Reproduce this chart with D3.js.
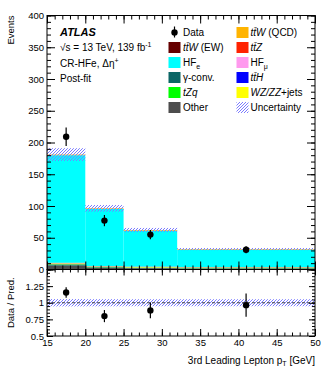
<!DOCTYPE html>
<meta charset="utf-8">
<style>
body { margin: 0; background: #fff; }
svg text { font-family: "Liberation Sans", Arial, Helvetica, sans-serif; fill: #000; }
.tick text { font-size: 9.5px; }
line.hatch { stroke: #7b7bff; stroke-width: 1px; }
</style>
<body>
<script src="https://d3js.org/d3.v7.min.js"></script>
<script>

// bin edges in 3rd leading lepton pT [GeV]
var binEdges = [15, 20, 25, 32, 50];

// observed data and its error
var dataCounts = [209, 77, 55, 31];
var dataErr = [14.5, 8.8, 7.4, 5.6];

// post-fit predictions per sample (stacked bottom -> top)
var otherVals    = [6.0, 2.5, 2.0, 1.5];
var gammaVals    = [2.0, 1.0, 0.8, 0.5];
var tZqVals      = [0.4, 0.3, 0.3, 0.3];
var wzzzVals     = [1.2, 0.8, 0.8, 0.8];
var ttHVals      = [0.2, 0.2, 0.2, 0.2];
var hfMuVals     = [0.3, 0.2, 0.2, 0.1];
var ttZVals      = [0.4, 0.3, 0.3, 0.3];
var ttWEWVals    = [0.1, 0.05, 0.05, 0.05];
var hfEVals      = [169.4, 90.0, 56.5, 27.5];
var ttWQCDVals   = [1.0, 1.0, 1.0, 0.9];

// total uncertainty on the prediction
var totalUnc = [10.0, 5.2, 3.3, 1.7];

// axis ticks
var yMainTicks = [0, 50, 100, 150, 200, 250, 300, 350, 400];
var yRatioTicks = [0.5, 0.75, 1, 1.25];
var xTicks = [15, 20, 25, 30, 35, 40, 45, 50];

var samples = [
  {key: "other",  vals: otherVals},
  {key: "gamma",  vals: gammaVals},
  {key: "tZq",    vals: tZqVals},
  {key: "wzzz",   vals: wzzzVals},
  {key: "ttH",    vals: ttHVals},
  {key: "hfMu",   vals: hfMuVals},
  {key: "ttZ",    vals: ttZVals},
  {key: "ttWEW",  vals: ttWEWVals},
  {key: "hfE",    vals: hfEVals},
  {key: "ttWQCD", vals: ttWQCDVals}
];

var colors = {
  other: "#4d4d4d", gamma: "#0b6666", tZq: "#00ff00", wzzz: "#ffff00",
  ttH: "#0000ff", hfMu: "#ff99ee", ttZ: "#ff2200", ttWEW: "#660000",
  hfE: "#00ffff", ttWQCD: "#ffb400"
};

// rows for d3.stack
var rows = binEdges.slice(0, -1).map(function(lo, i) {
  var r = {lo: lo, hi: binEdges[i + 1]};
  samples.forEach(function(s) { r[s.key] = s.vals[i]; });
  return r;
});
var stacked = d3.stack().keys(samples.map(function(s) { return s.key; }))(rows);
var totals = rows.map(function(r, i) { return stacked[stacked.length - 1][i][1]; });

var W = 332, H = 375;
var padL = 47, padR = 315, padT = 15.5, mainBottom = 269.5, ratioBottom = 336;

var x = d3.scaleLinear().domain([15, 50]).range([padL, padR]);
var y = d3.scaleLinear().domain([0, 400]).range([mainBottom, padT]);
var yr = d3.scaleLinear().domain([0.5, 1.5]).range([ratioBottom, mainBottom]);

var svg = d3.select("body").append("svg")
  .attr("width", W)
  .attr("height", H);

// hatch a screen rectangle with "/" lines (x + y = const)
function hatch(g, x0, y0, x1, y1, step) {
  var segs = [];
  var cStart = Math.ceil((x0 + y0) / step) * step;
  for (var c = cStart; c <= x1 + y1; c += step) {
    var xa = Math.max(x0, c - y1), xb = Math.min(x1, c - y0);
    if (xb > xa) segs.push([xa, c - xa, xb, c - xb]);
  }
  g.selectAll(null)
    .data(segs)
    .enter().append("line")
      .attr("class", "hatch")
      .attr("x1", function(d) { return d[0]; })
      .attr("y1", function(d) { return d[1]; })
      .attr("x2", function(d) { return d[2]; })
      .attr("y2", function(d) { return d[3]; });
}

// stacked histogram
var main = svg.append("g");
stacked.forEach(function(layer) {
  main.selectAll(null)
    .data(layer)
    .enter().append("rect")
      .attr("x", function(d) { return x(d.data.lo); })
      .attr("width", function(d) { return x(d.data.hi) - x(d.data.lo); })
      .attr("y", function(d) { return y(d[1]); })
      .attr("height", function(d) { return Math.max(0, y(d[0]) - y(d[1])); })
      .attr("fill", colors[layer.key]);
});

// uncertainty band
var uncG = svg.append("g");
rows.forEach(function(r, i) {
  hatch(uncG, x(r.lo), y(totals[i] + totalUnc[i]), x(r.hi), y(totals[i] - totalUnc[i]), 3);
});

// data points
var centers = rows.map(function(r) { return (r.lo + r.hi) / 2; });
var pts = svg.append("g");
pts.selectAll(null)
  .data(dataCounts)
  .enter().append("line")
    .attr("x1", function(d, i) { return x(centers[i]); })
    .attr("x2", function(d, i) { return x(centers[i]); })
    .attr("y1", function(d, i) { return y(d - dataErr[i]); })
    .attr("y2", function(d, i) { return y(d + dataErr[i]); })
    .attr("stroke", "#000").attr("stroke-width", 1.2);
pts.selectAll(null)
  .data(dataCounts)
  .enter().append("circle")
    .attr("cx", function(d, i) { return x(centers[i]); })
    .attr("cy", function(d) { return y(d); })
    .attr("r", 3.2);

// ratio panel
var ratio = svg.append("g");
rows.forEach(function(r, i) {
  var rel = totalUnc[i] / totals[i];
  hatch(ratio, x(r.lo), yr(1 + rel), x(r.hi), yr(1 - rel), 3);
});
ratio.append("line")
  .attr("x1", x(15)).attr("x2", x(50))
  .attr("y1", yr(1)).attr("y2", yr(1))
  .attr("stroke", "#444").attr("stroke-width", 1)
  .attr("stroke-dasharray", "3,2");
ratio.selectAll(null)
  .data(dataCounts)
  .enter().append("line")
    .attr("x1", function(d, i) { return x(centers[i]); })
    .attr("x2", function(d, i) { return x(centers[i]); })
    .attr("y1", function(d, i) { return yr((d - dataErr[i]) / totals[i]); })
    .attr("y2", function(d, i) { return yr((d + dataErr[i]) / totals[i]); })
    .attr("stroke", "#000").attr("stroke-width", 1.2);
ratio.selectAll(null)
  .data(dataCounts)
  .enter().append("circle")
    .attr("cx", function(d, i) { return x(centers[i]); })
    .attr("cy", function(d, i) { return yr(d / totals[i]); })
    .attr("r", 3.2);

// axes with inward ticks (major + minor)
function addAxis(axisFn, scale, ticks, minor, size, tx, ty, labels) {
  var g = svg.append("g").attr("transform", "translate(" + tx + "," + ty + ")");
  g.call(axisFn(scale).tickValues(minor).tickSize(-size / 2).tickSizeOuter(0).tickFormat(""));
  var g2 = svg.append("g").attr("transform", "translate(" + tx + "," + ty + ")");
  g2.call(axisFn(scale).tickValues(ticks).tickSize(-size).tickSizeOuter(0)
    .tickFormat(labels ? d3.format("") : ""));
  g.select(".domain").remove();
  g2.select(".domain").remove();
  return g2;
}
var xMinor = d3.range(15, 51, 1);
var yMinor = d3.range(0, 401, 10);
var yrMinor = d3.range(0.5, 1.501, 0.05);

addAxis(d3.axisLeft, y, yMainTicks, yMinor, 8, padL, 0, true);
addAxis(d3.axisRight, y, yMainTicks, yMinor, 8, padR, 0, false);
addAxis(d3.axisTop, x, xTicks, xMinor, 8, 0, padT, false);
addAxis(d3.axisBottom, x, xTicks, xMinor, 8, 0, mainBottom, false);

var lr = addAxis(d3.axisLeft, yr, yRatioTicks.concat([1.5]), yrMinor, 6, padL, 0, true);
lr.selectAll(".tick text").text(function(d) { return d === 1.5 ? "" : d; });
addAxis(d3.axisRight, yr, yRatioTicks.concat([1.5]), yrMinor, 6, padR, 0, false);
addAxis(d3.axisTop, x, xTicks, xMinor, 6, 0, mainBottom, false);
addAxis(d3.axisBottom, x, xTicks, xMinor, 7, 0, ratioBottom, true);

svg.selectAll(".tick text").attr("fill", "#000");

// frames
svg.append("rect")
  .attr("x", padL).attr("y", padT)
  .attr("width", padR - padL).attr("height", mainBottom - padT)
  .attr("fill", "none").attr("stroke", "#000");
svg.append("rect")
  .attr("x", padL).attr("y", mainBottom)
  .attr("width", padR - padL).attr("height", ratioBottom - mainBottom)
  .attr("fill", "none").attr("stroke", "#000");

// axis titles
svg.append("text")
  .attr("transform", "translate(13.5," + padT + ") rotate(-90)")
  .attr("text-anchor", "end")
  .style("font-size", "9.5px")
  .text("Events");
svg.append("text")
  .attr("transform", "translate(13.5," + ((mainBottom + ratioBottom) / 2) + ") rotate(-90)")
  .attr("text-anchor", "middle")
  .style("font-size", "9.5px")
  .text("Data / Pred.");
var xt = svg.append("text")
  .attr("x", padR).attr("y", 364)
  .attr("text-anchor", "end")
  .style("font-size", "10px")
  .text("3rd Leading Lepton p");
xt.append("tspan").attr("dy", 2).style("font-size", "7px").text("T");
xt.append("tspan").attr("dy", -2).text(" [GeV]");

// ATLAS label block
svg.append("text")
  .attr("x", 60).attr("y", 35.5)
  .style("font-size", "11px").style("font-weight", "bold").style("font-style", "italic")
  .text("ATLAS");
var lumi = svg.append("text")
  .attr("x", 60).attr("y", 51)
  .style("font-size", "10px")
  .text("\u221As = 13 TeV, 139 fb");
lumi.append("tspan").attr("dy", -4).style("font-size", "7px").text("-1");
var reg = svg.append("text")
  .attr("x", 60).attr("y", 66.5)
  .style("font-size", "10px")
  .text("CR-HFe, \u0394\u03B7");
reg.append("tspan").attr("dy", -4).style("font-size", "7px").text("+");
svg.append("text")
  .attr("x", 60).attr("y", 82)
  .style("font-size", "10px")
  .text("Post-fit");

// legend
var legendCol1 = [
  {type: "data", parts: [["Data", ""]]},
  {type: "box", key: "ttWEW", parts: [["t\u0074\u0304W", "i"], [" (EW)", ""]]},
  {type: "box", key: "hfE", parts: [["HF", ""], ["e", "sub"]]},
  {type: "box", key: "gamma", parts: [["\u03B3-conv.", ""]]},
  {type: "box", key: "tZq", parts: [["tZq", "i"]]},
  {type: "box", key: "other", parts: [["Other", ""]]}
];
var legendCol2 = [
  {type: "box", key: "ttWQCD", parts: [["t\u0074\u0304W", "i"], [" (QCD)", ""]]},
  {type: "box", key: "ttZ", parts: [["t\u0074\u0304Z", "i"]]},
  {type: "box", key: "hfMu", parts: [["HF", ""], ["\u03BC", "sub"]]},
  {type: "box", key: "ttH", parts: [["t\u0074\u0304H", "i"]]},
  {type: "box", key: "wzzz", parts: [["WZ/ZZ", "i"], ["+jets", ""]]},
  {type: "unc", parts: [["Uncertainty", ""]]}
];

function drawLegend(items, bx, tx) {
  items.forEach(function(it, i) {
    var cy = 32.5 + i * 15;
    if (it.type === "data") {
      svg.append("line")
        .attr("x1", bx + 6).attr("x2", bx + 6)
        .attr("y1", cy - 6).attr("y2", cy + 5)
        .attr("stroke", "#000").attr("stroke-width", 1.2);
      svg.append("circle").attr("cx", bx + 6).attr("cy", cy).attr("r", 3.2);
    } else if (it.type === "unc") {
      hatch(svg, bx, cy - 5.5, bx + 12, cy + 5.5, 3);
    } else {
      svg.append("rect")
        .attr("x", bx).attr("y", cy - 5.5)
        .attr("width", 12).attr("height", 11)
        .attr("fill", colors[it.key]);
    }
    var t = svg.append("text")
      .attr("x", tx).attr("y", cy + 3.6)
      .style("font-size", "10px");
    it.parts.forEach(function(p) {
      var s = t.append("tspan").text(p[0]);
      if (p[1] === "i") s.style("font-style", "italic");
      if (p[1] === "sub") s.attr("dy", 2.5).style("font-size", "7px");
    });
  });
}
drawLegend(legendCol1, 168.5, 183);
drawLegend(legendCol2, 236.5, 250.5);

</script>
</body>
